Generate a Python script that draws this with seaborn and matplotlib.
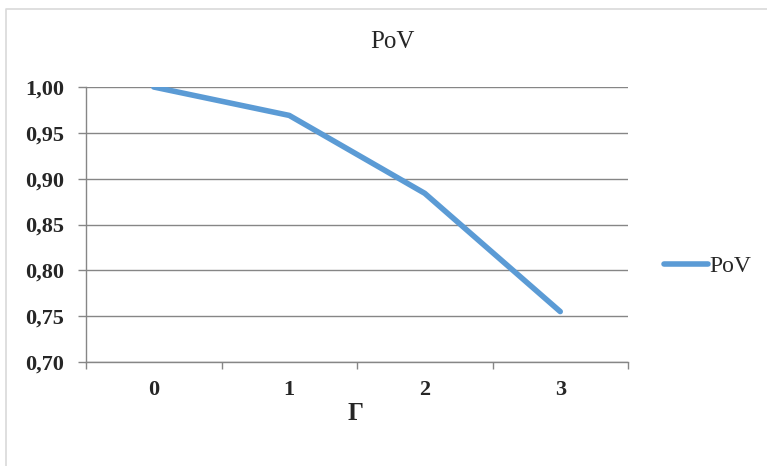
import numpy as np
import pandas as pd
import seaborn as sns
import matplotlib.pyplot as plt
from matplotlib.lines import Line2D
from matplotlib.ticker import FuncFormatter, FixedLocator

#%% data
gamma = [0, 1, 2, 3]
gamma_labels = ['0', '1', '2', '3']
pov = [1.000, 0.969, 0.884, 0.755]
y_ticks = [0.70, 0.75, 0.80, 0.85, 0.90, 0.95, 1.00]

#%% plot
sns.set_style('white')
plt.rcParams['font.family'] = ['Liberation Serif', 'DejaVu Serif']

mydf = pd.DataFrame({'gamma': gamma, 'PoV': pov})
linecol = '#5B9BD5'
gridcol = '#868686'

fig = plt.figure(figsize=(7.67, 4.66), dpi=100)
ax = fig.add_axes([86/767, 1-362/466, 542/767, 275/466])

sns.lineplot(data=mydf, x='gamma', y='PoV', ax=ax, color=linecol, linewidth=4,
             solid_capstyle='round', label='PoV', legend=False)

ax.set_xlim(-0.5, 3.5)
ax.set_ylim(0.70, 1.00)
ax.set_yticks(y_ticks)
ax.yaxis.set_major_formatter(FuncFormatter(lambda v, p: f'{v:.2f}'.replace('.', ',')))
ax.set_xticks(gamma)
ax.set_xticklabels(gamma_labels)
ax.xaxis.set_minor_locator(FixedLocator(np.arange(-0.5, 4.0, 1.0)))
ax.tick_params(axis='x', which='major', bottom=True, length=0, pad=13, labelsize=16)
ax.tick_params(axis='x', which='minor', bottom=True, length=5, width=1, color=gridcol, direction='out')
ax.tick_params(axis='y', left=True, length=6, width=1, color=gridcol, direction='out', pad=10, labelsize=16)
for lab in ax.get_xticklabels() + ax.get_yticklabels():
    lab.set_fontweight('bold')

ax.grid(axis='y', color=gridcol, linewidth=1)
ax.set_axisbelow(True)
for s in ['top', 'right']:
    ax.spines[s].set_visible(False)
for s in ['left', 'bottom']:
    ax.spines[s].set_color(gridcol)
    ax.spines[s].set_linewidth(1)
ax.set_xlabel('')
ax.set_ylabel('')

fig.text(392/767, 1-42/466, 'PoV', ha='center', va='center', fontsize=18)
fig.text(356/767, 1-413/466, 'Γ', ha='center', va='center', fontsize=18, fontweight='bold')

fig.legend(loc='center left', bbox_to_anchor=(655/767, 1-266/466), frameon=False,
           fontsize=17, handlelength=1.85, handletextpad=0.05, borderaxespad=0)

# chart border (only top and left edges are inside the picture)
fig.add_artist(Line2D([6/767, 6/767, 1.0], [0.0, 1-9/466, 1-9/466], transform=fig.transFigure,
                      color='#d9d9d9', linewidth=1.2))

plt.savefig('out.png', dpi=100)
